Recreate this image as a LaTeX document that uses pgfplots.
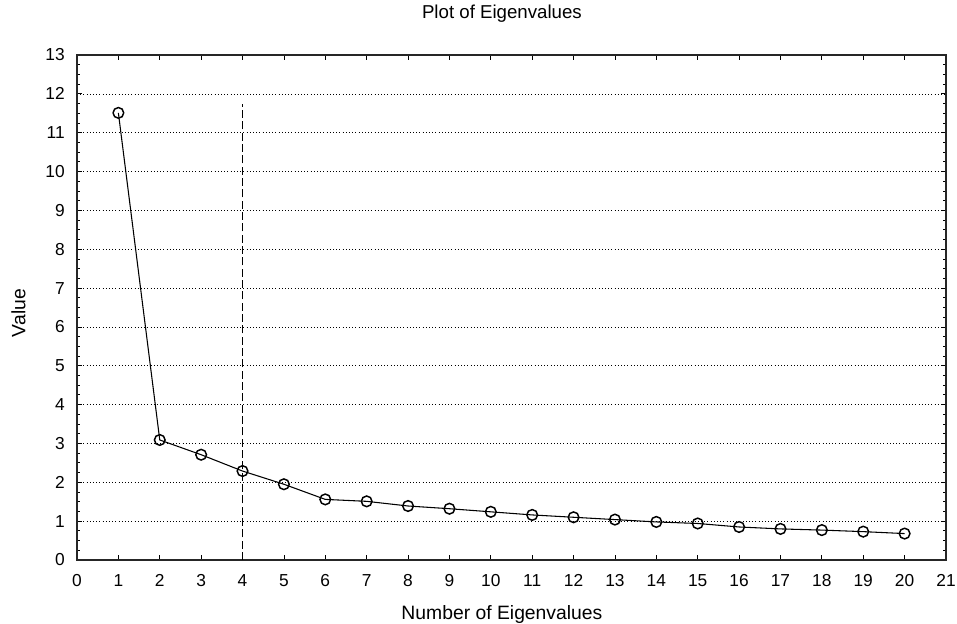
\documentclass[border=0pt]{standalone}
\usepackage{fontspec}
\setmainfont{Liberation Sans}
\usepackage{pgfplots}
\pgfplotsset{compat=1.18}

\begin{document}
\begin{tikzpicture}[x=1pt,y=1pt]
  \useasboundingbox (-57.75pt,-48pt) rectangle (660pt,420pt);
  \begin{axis}[
    scale only axis,
    width=651.75pt, height=378.75pt,
    anchor=origin, at={(0,0)},
    xmin=0, xmax=21, ymin=0, ymax=13,
    xtick={0,1,...,21}, ytick={0,1,...,13},
    minor y tick num=3,
    tick style={black, line width=0.6pt},
    major tick length=3.5pt, minor tick length=2.5pt,
    ymajorgrids,
    grid style={black, dotted, line width=0.5pt},
    axis line style={black!85, line width=1pt},
    /pgf/number format/assume math mode=true,
    ticklabel style={font=\fontsize{13}{15}\selectfont, inner sep=0pt},
    xticklabel style={anchor=base, yshift=-20pt},
    yticklabel style={anchor=east, xshift=-9pt},
    title={Plot of Eigenvalues},
    title style={font=\fontsize{14}{16}\selectfont, at={(axis description cs:0.489,1)}, anchor=base, yshift=21pt, inner sep=0pt},
    xlabel={Number of Eigenvalues},
    xlabel style={font=\fontsize{14.5}{16}\selectfont, at={(axis description cs:0.489,0)}, anchor=base, yshift=-45pt, inner sep=0pt},
    ylabel={Value},
    ylabel style={font=\fontsize{14.5}{16}\selectfont, at={(axis description cs:-0.0673,0.489)}, anchor=center, rotate=0, inner sep=0pt},
  ]
    \addplot[black, dash pattern=on 6pt off 2.5pt, line width=1.4pt] coordinates {(4,0) (4,11.75)};
    \addplot[black, line width=0.8pt, mark=o, mark size=4pt, mark options={fill=white, line width=1.1pt, solid}] coordinates {
      (1,11.51) (2,3.09) (3,2.71) (4,2.29) (5,1.95)
      (6,1.56) (7,1.51) (8,1.39) (9,1.32) (10,1.24)
      (11,1.16) (12,1.10) (13,1.04) (14,0.98) (15,0.94)
      (16,0.85) (17,0.80) (18,0.77) (19,0.73) (20,0.68)
    };
  \end{axis}
\end{tikzpicture}
\end{document}
